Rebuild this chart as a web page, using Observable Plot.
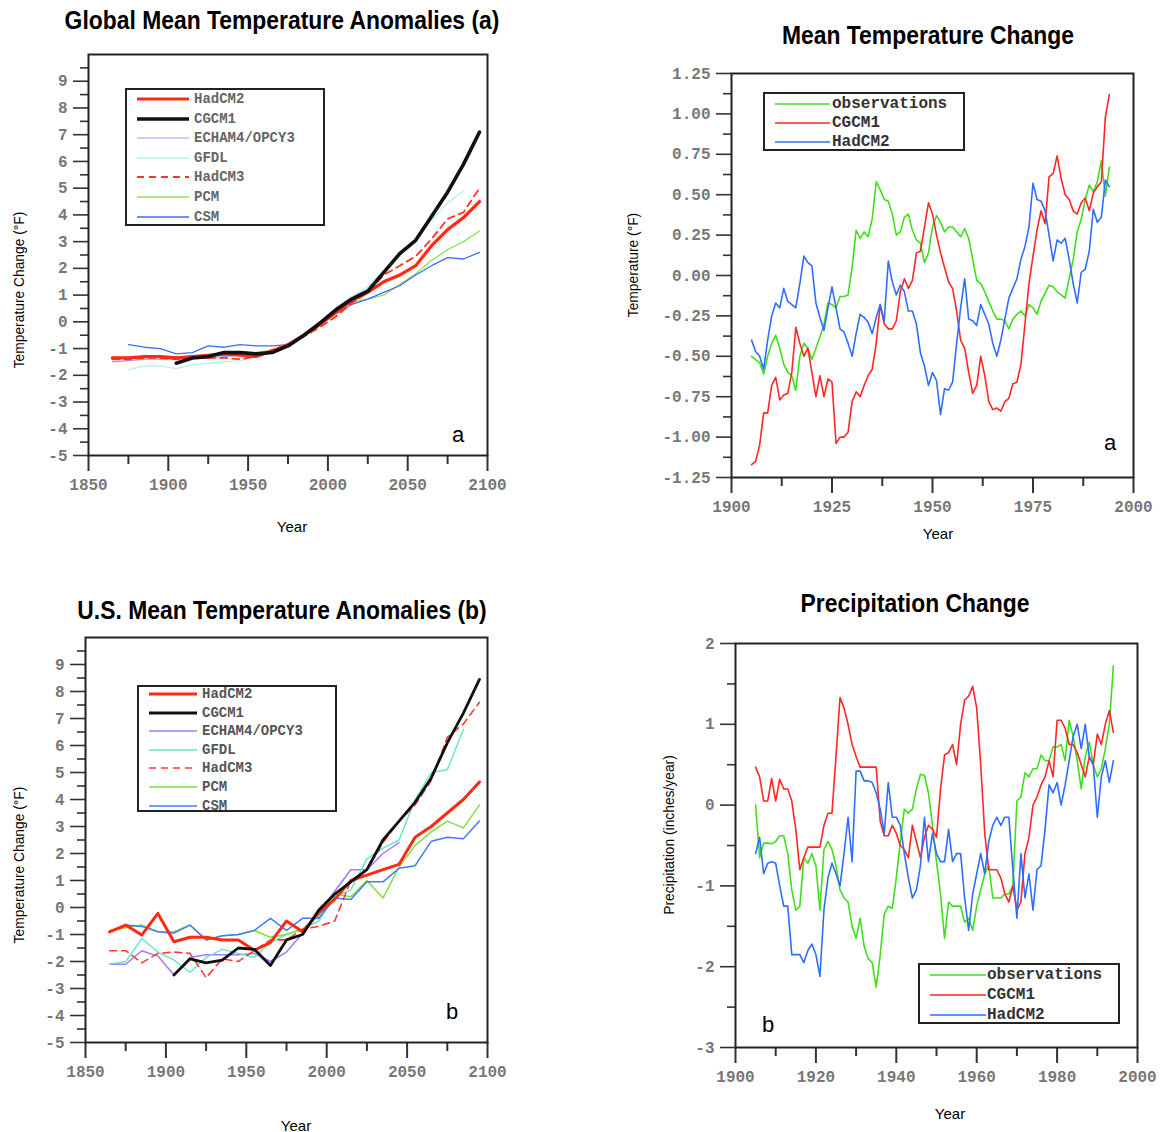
<!DOCTYPE html>
<html><head><meta charset="utf-8">
<script src="https://cdn.jsdelivr.net/npm/d3@7"></script>
<script src="https://cdn.jsdelivr.net/npm/@observablehq/plot@0.6"></script>
<style>
body{margin:0;background:#fff;}
#root{position:relative;width:1162px;height:1132px;overflow:hidden;background:#fff;font-family:"Liberation Sans Narrow","Liberation Sans",Arial,sans-serif;}
.abs{position:absolute;}
.title{font-weight:bold;font-size:26px;line-height:1;transform:translate(-50%,-50%) scaleX(0.88);white-space:nowrap;color:#000;}
.ylab{font-size:15px;line-height:1;transform:translate(-50%,-50%) rotate(-90deg) scaleX(0.92);white-space:nowrap;}
.xlab{font-size:15px;line-height:1;transform:translate(-50%,-50%);white-space:nowrap;}
.letter{font-family:"Liberation Sans",Arial,sans-serif;font-size:22px;line-height:1;transform:translate(-50%,-50%);}
.legend{border:2px solid #222;background:#fff;box-sizing:border-box;}
.legtxt{position:absolute;font-family:"Liberation Mono",monospace;white-space:nowrap;line-height:1;transform:translateY(-50%);}
</style></head>
<body><div id="root"></div>
<script>
// ---------- Panel A / C : model anomalies, decadal points ----------
const modelYears = [1865,1875,1885,1895,1905,1915,1925,1935,1945,1955,1965,1975,1985,1995,2005,2015,2025,2035,2045,2055,2065,2075,2085,2095];
const modelNames = ["HadCM2","CGCM1","ECHAM4/OPCY3","GFDL","HadCM3","PCM","CSM"];

const globalHadCM2 = [-1.35,-1.35,-1.3,-1.3,-1.35,-1.3,-1.25,-1.2,-1.25,-1.3,-1.1,-0.85,-0.5,-0.1,0.35,0.8,1.1,1.5,1.75,2.1,2.85,3.45,3.9,4.5];
const globalCGCM1 = [null,null,null,null,-1.55,-1.35,-1.3,-1.15,-1.15,-1.2,-1.15,-0.9,-0.5,-0.05,0.45,0.85,1.15,1.85,2.55,3.05,3.95,4.85,5.9,7.1];
const globalECHAM4 = [-1.5,-1.45,-1.4,-1.4,-1.4,-1.35,-1.35,-1.3,-1.25,-1.2,-1.05,-0.85,-0.45,0.0,0.5,0.95,1.2,1.5,1.7,null,null,null,null,null];
const globalGFDL = [null,-1.8,-1.65,-1.65,-1.75,-1.6,-1.55,-1.5,-1.45,-1.3,-1.15,-0.9,-0.5,0.0,0.45,0.95,1.3,1.9,2.5,3.1,3.8,4.45,4.9,null];
const globalHadCM3 = [-1.4,-1.4,-1.35,-1.35,-1.4,-1.35,-1.35,-1.35,-1.4,-1.3,-1.05,-0.85,-0.55,-0.2,0.2,0.7,1.1,1.75,2.1,2.45,3.1,3.85,4.1,5.0];
const globalPCM = [null,null,null,null,-1.3,-1.3,-1.25,-1.25,-1.2,-1.15,-1.05,-0.85,-0.5,-0.05,0.4,0.75,0.85,1.0,1.4,1.8,2.3,2.7,3.0,3.4];
const globalCSM = [null,-0.85,-0.95,-1.0,-1.2,-1.15,-0.9,-0.95,-0.85,-0.9,-0.9,-0.85,-0.5,-0.1,0.3,0.65,0.85,1.1,1.35,1.75,2.1,2.4,2.35,2.6];

const usHadCM2 = [-0.9,-0.65,-1.02,-0.22,-1.27,-1.1,-1.1,-1.2,-1.2,-1.58,-1.3,-0.5,-0.9,-0.2,0.3,1.0,1.2,1.4,1.6,2.6,3.0,3.5,4.0,4.65];
const usCGCM1 = [null,null,null,null,-2.5,-1.9,-2.05,-1.95,-1.5,-1.55,-2.15,-1.2,-1.0,-0.1,0.5,0.95,1.4,2.5,3.2,3.9,4.8,6.1,7.2,8.45];
const usECHAM4 = [-2.1,-2.1,-1.6,-1.8,-2.5,-1.85,-1.75,-1.75,-1.75,-1.7,-2.0,-1.65,-0.95,-0.2,0.6,1.4,1.4,2.0,2.4,null,null,null,null,null];
const usGFDL = [-2.1,-2.0,-1.15,-1.65,-1.95,-2.4,-1.85,-1.55,-1.7,-1.85,-1.3,-1.0,-0.8,-0.5,0.4,0.65,1.8,2.2,2.5,4.0,5.0,5.1,6.6,null];
const usHadCM3 = [-1.6,-1.6,-2.05,-1.7,-1.65,-1.7,-2.6,-1.9,-2.0,-1.6,-1.2,-1.2,-0.8,-0.7,-0.5,1.0,1.4,2.4,3.2,3.8,4.7,6.3,6.8,7.6];
const usPCM = [-0.85,-0.75,-0.65,-0.9,-0.9,-0.65,-1.2,-1.05,-1.0,-0.85,-1.1,-1.0,-0.8,-0.3,0.5,0.4,1.0,0.35,1.5,2.3,2.8,3.2,2.95,3.8];
const usCSM = [null,-0.65,-0.7,-0.9,-0.95,-0.65,-1.2,-1.05,-1.0,-0.85,-0.4,-0.85,-0.4,-0.4,0.35,0.3,0.95,0.95,1.45,1.55,2.45,2.6,2.55,3.2];

// ---------- Panel B / D : observed vs model, yearly 1905-1994 ----------
const obsYears = [1905,1906,1907,1908,1909,1910,1911,1912,1913,1914,1915,1916,1917,1918,1919,1920,1921,1922,1923,1924,1925,1926,1927,1928,1929,1930,1931,1932,1933,1934,1935,1936,1937,1938,1939,1940,1941,1942,1943,1944,1945,1946,1947,1948,1949,1950,1951,1952,1953,1954,1955,1956,1957,1958,1959,1960,1961,1962,1963,1964,1965,1966,1967,1968,1969,1970,1971,1972,1973,1974,1975,1976,1977,1978,1979,1980,1981,1982,1983,1984,1985,1986,1987,1988,1989,1990,1991,1992,1993,1994];
const compNames = ["observations","CGCM1","HadCM2"];

const tempObs = [-0.50,-0.52,-0.54,-0.61,-0.50,
 -0.42,-0.37,-0.45,-0.55,-0.60,-0.62,-0.71,-0.50,-0.42,-0.45,
 -0.52,-0.45,-0.38,-0.30,-0.17,-0.18,-0.20,-0.13,-0.13,-0.12,
 0.05,0.28,0.23,0.27,0.24,0.35,0.58,0.53,0.47,0.46,
 0.38,0.25,0.27,0.36,0.38,0.28,0.22,0.20,0.08,0.14,
 0.30,0.37,0.33,0.27,0.30,0.30,0.27,0.24,0.29,0.23,
 0.10,-0.03,-0.05,-0.10,-0.16,-0.22,-0.27,-0.27,-0.28,-0.33,
 -0.27,-0.24,-0.22,-0.25,-0.18,-0.20,-0.24,-0.16,-0.11,-0.06,
 -0.07,-0.10,-0.12,-0.14,-0.02,0.10,0.27,0.35,0.47,0.56,
 0.52,0.58,0.71,0.49,0.67];
const tempCGCM1 = [-1.17,-1.15,-1.05,-0.85,-0.85,
 -0.68,-0.63,-0.77,-0.74,-0.73,-0.60,-0.32,-0.42,-0.50,-0.45,
 -0.60,-0.75,-0.62,-0.75,-0.64,-0.66,-1.04,-1.00,-1.00,-0.97,
 -0.78,-0.72,-0.75,-0.68,-0.62,-0.58,-0.42,-0.18,-0.30,-0.33,
 -0.33,-0.28,-0.10,-0.02,-0.08,-0.03,0.14,0.15,0.30,0.45,
 0.38,0.25,0.14,0.05,-0.04,-0.08,-0.22,-0.40,-0.45,-0.60,
 -0.73,-0.68,-0.50,-0.62,-0.78,-0.83,-0.82,-0.84,-0.78,-0.76,
 -0.67,-0.66,-0.55,-0.30,-0.05,0.12,0.28,0.40,0.32,0.61,
 0.63,0.74,0.60,0.50,0.47,0.40,0.38,0.45,0.48,0.40,
 0.51,0.55,0.58,0.98,1.12];
const tempHadCM2 = [-0.40,-0.47,-0.50,-0.58,-0.40,
 -0.25,-0.17,-0.20,-0.08,-0.16,-0.18,-0.20,-0.05,0.12,0.08,
 0.06,-0.17,-0.26,-0.34,-0.20,-0.07,-0.20,-0.33,-0.35,-0.42,
 -0.50,-0.36,-0.24,-0.26,-0.29,-0.36,-0.26,-0.18,-0.28,0.09,
 -0.04,-0.12,-0.06,-0.10,-0.22,-0.22,-0.30,-0.48,-0.56,-0.68,
 -0.60,-0.65,-0.86,-0.70,-0.71,-0.66,-0.42,-0.20,-0.02,-0.27,
 -0.28,-0.31,-0.18,-0.24,-0.30,-0.42,-0.50,-0.40,-0.27,-0.14,
 -0.08,-0.02,0.10,0.18,0.30,0.57,0.47,0.46,0.40,0.25,
 0.09,0.22,0.20,0.23,0.10,-0.05,-0.17,0.02,0.04,0.15,
 0.41,0.33,0.36,0.59,0.55];

const precObs = [0.00,-0.65,-0.47,-0.47,-0.48,
 -0.45,-0.38,-0.38,-0.60,-1.05,-1.30,-1.25,-0.65,-0.72,-0.60,
 -0.75,-1.30,-0.55,-0.45,-0.55,-0.75,-1.05,-1.15,-1.20,-1.50,
 -1.65,-1.40,-1.75,-1.90,-1.95,-2.25,-1.85,-1.35,-1.25,-1.28,
 -0.90,-0.45,-0.05,-0.10,-0.05,0.20,0.38,0.37,0.15,-0.25,
 -0.70,-1.10,-1.65,-1.20,-1.25,-1.25,-1.25,-1.45,-1.40,-1.55,
 -1.25,-1.05,-0.85,-0.75,-1.15,-1.15,-1.15,-1.10,-1.10,-1.00,
 0.05,0.10,0.40,0.35,0.45,0.45,0.62,0.55,0.55,0.72,
 0.72,0.75,0.55,1.05,0.85,0.55,0.20,0.60,0.78,0.50,
 0.35,0.45,0.70,1.00,1.72];
const precCGCM1 = [0.47,0.35,0.05,0.05,0.33,
 0.05,0.32,0.20,0.20,0.05,-0.30,-0.80,-0.65,-0.52,-0.52,
 -0.52,-0.52,-0.25,-0.10,-0.10,0.60,1.33,1.20,1.00,0.75,
 0.60,0.47,0.47,0.47,0.47,0.47,-0.20,-0.38,-0.38,-0.25,
 -0.35,-0.50,-0.55,-0.65,-0.25,-0.45,-0.65,-0.40,-0.25,-0.30,
 -0.40,0.20,0.62,0.65,0.75,0.50,1.00,1.30,1.35,1.47,
 1.20,0.50,-0.35,-0.80,-0.80,-0.80,-0.90,-1.10,-1.20,-1.00,
 -1.30,-1.20,-0.60,-0.40,0.00,0.10,0.25,0.35,0.55,0.35,
 1.05,1.05,0.95,0.75,0.75,0.65,0.50,0.35,0.60,0.50,
 0.88,0.75,1.00,1.17,0.90];
const precHadCM2 = [-0.60,-0.40,-0.85,-0.72,-0.70,
 -0.72,-1.00,-1.25,-1.25,-1.85,-1.85,-1.85,-1.95,-1.80,-1.72,
 -1.85,-2.12,-1.30,-0.90,-0.72,-0.85,-1.00,-0.60,-0.15,-0.70,
 0.42,0.42,0.30,0.30,0.28,0.15,-0.05,-0.35,0.28,-0.15,
 -0.15,-0.25,-0.60,-0.90,-1.15,-1.05,-0.75,-0.15,-0.70,-0.35,
 -0.60,-0.70,-0.70,-0.30,-0.70,-0.60,-0.60,-1.15,-1.55,-1.10,
 -0.85,-0.60,-0.85,-0.45,-0.25,-0.15,-0.25,-0.15,-0.15,-0.80,
 -1.40,-0.60,-1.15,-0.85,-1.30,-0.80,-0.75,-0.30,0.25,0.15,
 0.28,0.00,0.25,0.55,0.85,1.00,0.70,1.00,0.60,0.50,
 -0.15,0.35,0.55,0.28,0.55];

// ---------- tick values ----------
const anomMajor = [-5,-4,-3,-2,-1,0,1,2,3,4,5,6,7,8,9];
const anomMinor = [-4.5,-3.5,-2.5,-1.5,-0.5,0.5,1.5,2.5,3.5,4.5,5.5,6.5,7.5,8.5,9.5];
const anomXMajor = [1850,1900,1950,2000,2050,2100];
const anomXMinor = [1875,1925,1975,2025,2075];
const tempMajor = [-1.25,-1.00,-0.75,-0.50,-0.25,0,0.25,0.50,0.75,1.00,1.25];
const tempMinor = [-1.125,-0.875,-0.625,-0.375,-0.125,0.125,0.375,0.625,0.875,1.125];
const tempXMajor = [1900,1925,1950,1975,2000];
const tempXMinor = [1912.5,1937.5,1962.5,1987.5];
const precMajor = [-3,-2,-1,0,1,2];
const precMinor = [-2.5,-1.5,-0.5,0.5,1.5];
const precXMajor = [1900,1920,1940,1960,1980,2000];
const precXMinor = [1910,1930,1950,1970,1990];

// ---------- styles (kept separate from data) ----------
const modelStyleA = {
  "HadCM2": {color:"#ff2a12", width:3.2},
  "CGCM1": {color:"#111111", width:3.6},
  "ECHAM4/OPCY3": {color:"#b48cff", width:1.2},
  "GFDL": {color:"#b2f2ea", width:1.3},
  "HadCM3": {color:"#ff3322", width:1.8, dash:"7,5"},
  "PCM": {color:"#8fe35a", width:1.3},
  "CSM": {color:"#3f6cff", width:1.3}
};
const modelStyleC = {
  "HadCM2": {color:"#ff2a12", width:3.0},
  "CGCM1": {color:"#111111", width:2.8},
  "ECHAM4/OPCY3": {color:"#a778ff", width:1.5},
  "GFDL": {color:"#5fe8c4", width:1.4},
  "HadCM3": {color:"#ff3a30", width:1.6, dash:"7,5"},
  "PCM": {color:"#7ee040", width:1.5},
  "CSM": {color:"#3f7bff", width:1.5}
};
const compStyle = {
  "observations": {color:"#3ee01c", width:1.6},
  "CGCM1": {color:"#ff2626", width:1.6},
  "HadCM2": {color:"#2f6eff", width:1.6}
};

const root = document.getElementById("root");

function addDiv(cls, text, left, top, extra) {
  const d = document.createElement("div");
  d.className = "abs " + cls;
  d.textContent = text;
  d.style.left = left + "px";
  d.style.top = top + "px";
  if (extra) Object.assign(d.style, extra);
  root.appendChild(d);
  return d;
}

function makePanel(cfg) {
  const mL = 70, mR = 30, mT = 12, mB = 50;
  const fw = cfg.frame[2] - cfg.frame[0], fh = cfg.frame[3] - cfg.frame[1];
  const marks = [];
  for (const s of cfg.series) {
    const rows = cfg.years.map((yr, i) => ({year: yr, value: s.values[i]}));
    const st = cfg.styles[s.name];
    marks.push(Plot.line(rows, {x: "year", y: "value", stroke: st.color, strokeWidth: st.width,
      strokeDasharray: st.dash || null, strokeLinejoin: "round"}));
  }
  marks.push(
    Plot.axisY(cfg.yMinor, {anchor: "left", tickSize: 8, tickFormat: () => "", label: null, stroke: "#333", strokeWidth: 1.6}),
    Plot.axisY(cfg.yMajor, {anchor: "left", tickSize: 15, tickPadding: 6, tickFormat: cfg.yFmt, label: null, stroke: "#333", fill: "#777", strokeWidth: 1.6}),
    Plot.axisX(cfg.xMinor, {anchor: "bottom", tickSize: 9, tickFormat: () => "", label: null, stroke: "#333", strokeWidth: 2}),
    Plot.axisX(cfg.xMajor, {anchor: "bottom", tickSize: 16, tickPadding: 7, tickFormat: d => String(d), label: null, stroke: "#333", fill: "#777", strokeWidth: 2}),
    Plot.frame({stroke: "#222", strokeWidth: 2})
  );
  const svg = Plot.plot({
    width: fw + mL + mR, height: fh + mT + mB,
    marginLeft: mL, marginRight: mR, marginTop: mT, marginBottom: mB,
    x: {domain: cfg.xDomain}, y: {domain: cfg.yDomain},
    style: {fontFamily: "'Liberation Mono', monospace", fontSize: "16px", fontWeight: "bold", background: "transparent", overflow: "visible"},
    marks
  });
  svg.style.position = "absolute";
  svg.style.left = (cfg.frame[0] - mL) + "px";
  svg.style.top = (cfg.frame[1] - mT) + "px";
  root.appendChild(svg);
}

function makeLegend(box, names, styles, opt) {
  const d = document.createElement("div");
  d.className = "abs legend";
  Object.assign(d.style, {left: box[0] + "px", top: box[1] + "px", width: (box[2] - box[0]) + "px", height: (box[3] - box[1]) + "px"});
  names.forEach((n, i) => {
    const cy = opt.first + i * opt.step;
    const st = styles[n];
    const ns = "http://www.w3.org/2000/svg";
    const s = document.createElementNS(ns, "svg");
    s.setAttribute("width", opt.lineLen + 4); s.setAttribute("height", 10);
    Object.assign(s.style, {position: "absolute", left: (opt.lineX - 2) + "px", top: (cy - 5) + "px"});
    const l = document.createElementNS(ns, "line");
    l.setAttribute("x1", 2); l.setAttribute("x2", opt.lineLen + 2); l.setAttribute("y1", 5); l.setAttribute("y2", 5);
    l.setAttribute("stroke", st.color); l.setAttribute("stroke-width", st.width);
    if (st.dash) l.setAttribute("stroke-dasharray", st.dash);
    s.appendChild(l); d.appendChild(s);
    const t = document.createElement("div");
    t.className = "legtxt"; t.textContent = n;
    Object.assign(t.style, {left: opt.textX + "px", top: cy + "px", fontSize: opt.fontSize, color: opt.color, fontWeight: opt.weight, letterSpacing: opt.spacing || "0"});
    d.appendChild(t);
  });
  root.appendChild(d);
}

const intFmt = d => String(d);
const twoFmt = d => d.toFixed(2);

// Panel A
makePanel({frame: [88, 54, 487, 455], xDomain: [1850, 2100], yDomain: [-5, 10], years: modelYears,
  series: [
    {name: "ECHAM4/OPCY3", values: globalECHAM4},
    {name: "GFDL", values: globalGFDL},
    {name: "PCM", values: globalPCM},
    {name: "CSM", values: globalCSM},
    {name: "HadCM3", values: globalHadCM3},
    {name: "HadCM2", values: globalHadCM2},
    {name: "CGCM1", values: globalCGCM1}
  ], styles: modelStyleA, yMajor: anomMajor, yMinor: anomMinor, xMajor: anomXMajor, xMinor: anomXMinor, yFmt: intFmt});

// Panel B
makePanel({frame: [731, 73, 1133, 477], xDomain: [1900, 2000], yDomain: [-1.25, 1.25], years: obsYears,
  series: [
    {name: "observations", values: tempObs},
    {name: "CGCM1", values: tempCGCM1},
    {name: "HadCM2", values: tempHadCM2}
  ], styles: compStyle, yMajor: tempMajor, yMinor: tempMinor, xMajor: tempXMajor, xMinor: tempXMinor, yFmt: twoFmt});

// Panel C
makePanel({frame: [85, 637, 487, 1042], xDomain: [1850, 2100], yDomain: [-5, 10], years: modelYears,
  series: [
    {name: "ECHAM4/OPCY3", values: usECHAM4},
    {name: "GFDL", values: usGFDL},
    {name: "PCM", values: usPCM},
    {name: "CSM", values: usCSM},
    {name: "HadCM3", values: usHadCM3},
    {name: "HadCM2", values: usHadCM2},
    {name: "CGCM1", values: usCGCM1}
  ], styles: modelStyleC, yMajor: anomMajor, yMinor: anomMinor, xMajor: anomXMajor, xMinor: anomXMinor, yFmt: intFmt});

// Panel D
makePanel({frame: [735, 643, 1137, 1047], xDomain: [1900, 2000], yDomain: [-3, 2], years: obsYears,
  series: [
    {name: "observations", values: precObs},
    {name: "CGCM1", values: precCGCM1},
    {name: "HadCM2", values: precHadCM2}
  ], styles: compStyle, yMajor: precMajor, yMinor: precMinor, xMajor: precXMajor, xMinor: precXMinor, yFmt: intFmt});

// Legends
makeLegend([125, 88, 325, 226], modelNames, modelStyleA, {first: 9, step: 19.6, lineX: 10, lineLen: 52, textX: 67, fontSize: "14px", color: "#666", weight: "bold"});
makeLegend([137, 685, 337, 812], modelNames, modelStyleC, {first: 7, step: 18.6, lineX: 10, lineLen: 48, textX: 63, fontSize: "14px", color: "#555", weight: "bold"});
makeLegend([763, 92, 965, 151], compNames, compStyle, {first: 10, step: 19, lineX: 10, lineLen: 55, textX: 67, fontSize: "16px", color: "#333", weight: "bold"});
makeLegend([918, 963, 1120, 1024], compNames, compStyle, {first: 10, step: 20, lineX: 10, lineLen: 56, textX: 67, fontSize: "16px", color: "#333", weight: "bold"});

// Titles
addDiv("title", "Global Mean Temperature Anomalies (a)", 282, 20);
addDiv("title", "Mean Temperature Change", 928, 35);
addDiv("title", "U.S. Mean Temperature Anomalies (b)", 282, 610);
addDiv("title", "Precipitation Change", 915, 603);

// Axis labels
addDiv("ylab", "Temperature Change (\u00B0F)", 18, 290);
addDiv("xlab", "Year", 292, 526);
addDiv("ylab", "Temperature (\u00B0F)", 632, 265);
addDiv("xlab", "Year", 938, 533);
addDiv("ylab", "Temperature Change (\u00B0F)", 18, 865);
addDiv("xlab", "Year", 296, 1125);
addDiv("ylab", "Precipitation (inches/year)", 668, 835);
addDiv("xlab", "Year", 950, 1113);

// Panel letters
addDiv("letter", "a", 458, 435);
addDiv("letter", "a", 1110, 443);
addDiv("letter", "b", 452, 1012);
addDiv("letter", "b", 768, 1025);
</script>
</body></html>
